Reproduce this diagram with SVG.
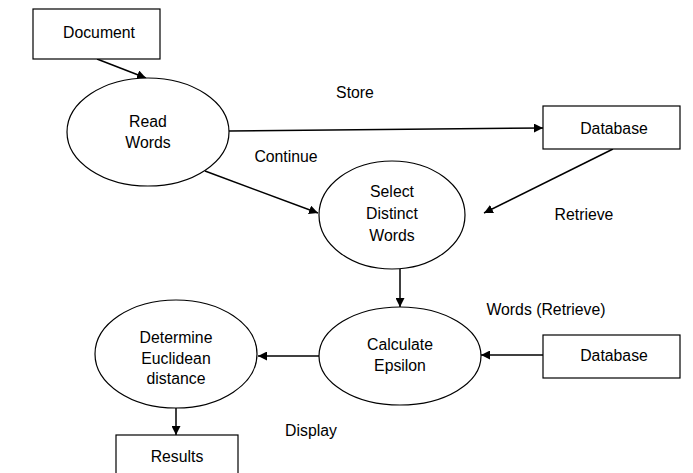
<svg xmlns="http://www.w3.org/2000/svg" width="693" height="473" viewBox="0 0 693 473">
<style>
.s{fill:#fff;stroke:#000;stroke-width:1.2}
text{font-family:"Liberation Sans",Arial,sans-serif;font-size:15.8px;fill:#000;text-anchor:middle}
.c{stroke:#000;stroke-width:1.5;fill:none;marker-end:url(#a)}
</style>
<defs>
<marker id="a" viewBox="0 0 10 10" refX="10" refY="5" markerWidth="9" markerHeight="9" markerUnits="userSpaceOnUse" orient="auto">
<path d="M0,0 L10,5 L0,10 z" fill="#000"/>
</marker>
</defs>
<rect width="693" height="473" fill="#fff"/>
<g id="connectors">
<line class="c" x1="97" y1="59" x2="146" y2="78"/>
<line class="c" x1="229" y1="131" x2="543" y2="128"/>
<line class="c" x1="205" y1="171" x2="318" y2="213"/>
<line class="c" x1="613" y1="149" x2="484" y2="213"/>
<line class="c" x1="400" y1="269" x2="400" y2="307"/>
<line class="c" x1="543" y1="355" x2="481" y2="355"/>
<line class="c" x1="319" y1="356" x2="258" y2="356"/>
<line class="c" x1="176" y1="408" x2="176" y2="435"/>
</g>
<g id="labels">
<text x="355" y="98">Store</text>
<text x="286" y="162">Continue</text>
<text x="584" y="220">Retrieve</text>
<text x="546" y="315">Words (Retrieve)</text>
<text x="311" y="436">Display</text>
</g>
<g id="document"><rect class="s" x="33" y="9" width="127" height="50"/><text x="99" y="38">Document</text></g>
<g id="read-words"><ellipse class="s" cx="148" cy="132" rx="81" ry="54"/><text x="148" y="127">Read</text><text x="148" y="148">Words</text></g>
<g id="database1"><rect class="s" x="543" y="106" width="137" height="43"/><text x="614" y="134">Database</text></g>
<g id="select-distinct"><ellipse class="s" cx="392" cy="215" rx="73" ry="54"/><text x="392" y="197">Select</text><text x="392" y="219">Distinct</text><text x="392" y="241">Words</text></g>
<g id="calculate-epsilon"><ellipse class="s" cx="400" cy="356" rx="81" ry="49"/><text x="400" y="350">Calculate</text><text x="400" y="371">Epsilon</text></g>
<g id="database2"><rect class="s" x="543" y="335" width="137" height="43"/><text x="614" y="361">Database</text></g>
<g id="euclidean"><ellipse class="s" cx="176" cy="354" rx="81" ry="54"/><text x="176" y="343">Determine</text><text x="176" y="364">Euclidean</text><text x="176" y="384">distance</text></g>
<g id="results"><rect class="s" x="116" y="435" width="122" height="50"/><text x="177" y="462">Results</text></g>
</svg>
